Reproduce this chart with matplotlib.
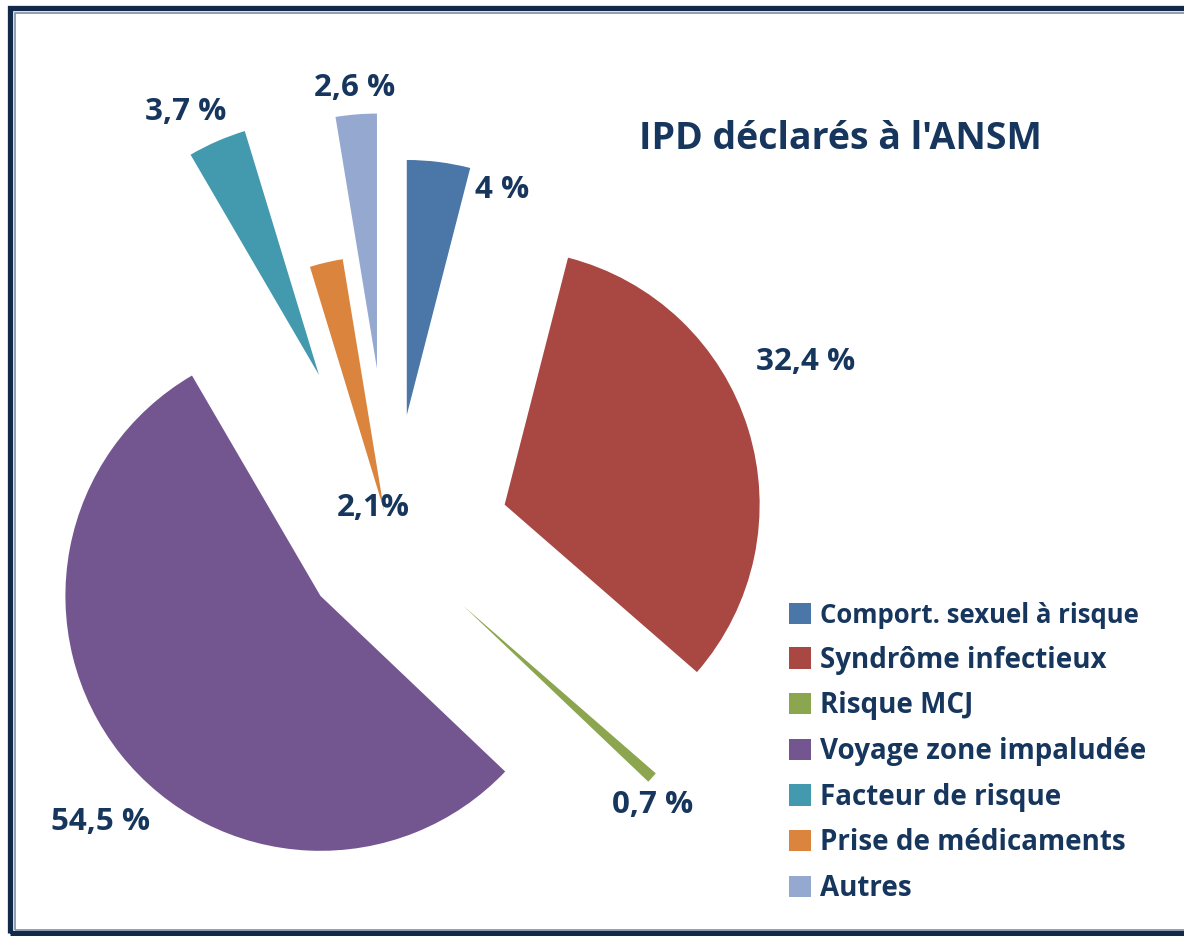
import matplotlib
matplotlib.use("Agg")
import matplotlib.pyplot as plt
from matplotlib.patches import Rectangle

# ---- data ----
categories = ["Comport. sexuel à risque", "Syndrôme infectieux", "Risque MCJ",
              "Voyage zone impaludée", "Facteur de risque", "Prise de médicaments", "Autres"]
values = [4.0, 32.4, 0.7, 54.5, 3.7, 2.1, 2.6]
value_labels = ["4 %", "32,4 %", "0,7 %", "54,5 %", "3,7 %", "2,1%", "2,6 %"]
title = "IPD déclarés à l'ANSM"

# ---- style / layout ----
colors = ["#4A76A8", "#A94743", "#8CA54F", "#735690", "#4399AE", "#DB843D", "#95A9D0"]
explode_px = [126, 119, 98, 90, 180, 30, 172]
label_pos_px = [(502, 190), (806, 362), (653, 805), (101, 822), (186, 112), (373, 508), (355, 88)]
text_color = "#17365D"
W, H = 1184, 936
font = ["Open Sans", "DejaVu Sans"]

fig = plt.figure(figsize=(W / 100, H / 100), dpi=100)
ax = fig.add_axes([0, 0, 1, 1])

wedges, _ = ax.pie(values, explode=explode_px, colors=colors, startangle=90,
                   counterclock=False, center=(391, H - 540), radius=255,
                   frame=True, wedgeprops=dict(linewidth=0))
ax.set_xlim(0, W)
ax.set_ylim(0, H)
ax.set_aspect("equal")
ax.axis("off")

for lab, (px, py) in zip(value_labels, label_pos_px):
    ax.text(px, H - py, lab, ha="center", va="center", fontsize=22.5,
            fontweight="bold", color=text_color, family=font)

ax.text(840, H - 149, title, ha="center", va="baseline", fontsize=27,
        fontweight="bold", color=text_color, family=font)

leg = ax.legend(wedges, categories, loc="upper left",
                bbox_to_anchor=(789 / W, 1 - 602 / H), bbox_transform=fig.transFigure,
                frameon=False, borderpad=0, borderaxespad=0,
                handlelength=0.8, handleheight=0.8,
                handletextpad=0.3, labelspacing=0.6,
                prop=dict(family=font, size=20, weight="bold"))
for i, t in enumerate(leg.get_texts()):
    t.set_color(text_color)
leg.get_texts()[0].set_fontsize(18.5)

# frame (extends past the right edge like the reference)
fig.patches.append(Rectangle((9.5 / W, 3.5 / H), (W + 40) / W, (H - 11) / H,
                             transform=fig.transFigure, fill=False,
                             edgecolor="#13294A", linewidth=3.8))
fig.patches.append(Rectangle((14.5 / W, 6.5 / H), (W + 40) / W, (H - 19) / H,
                             transform=fig.transFigure, fill=False,
                             edgecolor="#7F8FA6", linewidth=1.2))

fig.savefig("out.png", dpi=100, facecolor="white")
